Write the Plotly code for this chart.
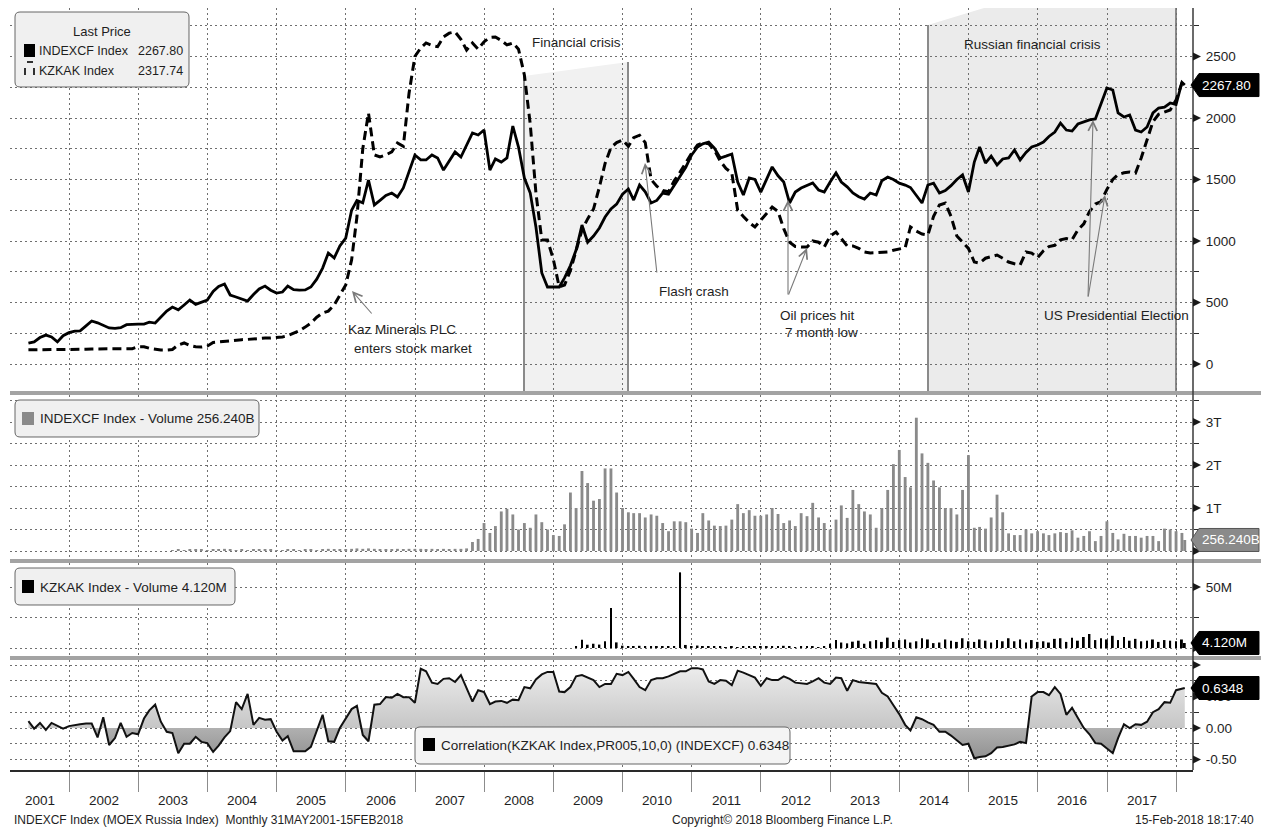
import calendar
import datetime
import plotly.graph_objects as go
from plotly.subplots import make_subplots

# ------------------------------------------------------------------ data
# Monthly, 31 May 2001 .. 15 Feb 2018 (202 points)
indexcf_price = (
    [170, 180, 215, 235, 220, 180, 230, 255]                              # 2001 May-Dec
    + [268, 270, 310, 350, 335, 315, 293, 290, 295, 320, 325, 325]        # 2002
    + [325, 340, 333, 380, 430, 463, 440, 480, 520, 485, 500, 520]        # 2003
    + [590, 630, 650, 561, 545, 530, 512, 565, 610, 634, 600, 577]        # 2004
    + [585, 634, 605, 600, 602, 626, 690, 780, 902, 862, 960, 1024]       # 2005
    + [1250, 1330, 1310, 1496, 1293, 1330, 1370, 1390, 1358, 1431, 1560, 1699]  # 2006
    + [1659, 1659, 1700, 1675, 1577, 1650, 1724, 1683, 1780, 1878, 1862, 1902]  # 2007
    + [1577, 1667, 1642, 1675, 1935, 1764, 1512, 1390, 1114, 740, 626, 626]     # 2008
    + [626, 700, 800, 927, 1130, 990, 1040, 1106, 1195, 1260, 1300, 1380]       # 2009
    + [1423, 1333, 1455, 1400, 1309, 1330, 1390, 1380, 1450, 1520, 1600, 1700]  # 2010
    + [1764, 1790, 1805, 1756, 1675, 1690, 1707, 1480, 1374, 1512, 1500, 1398]  # 2011
    + [1500, 1602, 1530, 1480, 1309, 1398, 1431, 1455, 1472, 1415, 1398, 1480]  # 2012
    + [1553, 1480, 1440, 1390, 1360, 1341, 1390, 1374, 1490, 1520, 1500, 1470]  # 2013
    + [1455, 1435, 1370, 1309, 1455, 1470, 1390, 1410, 1450, 1500, 1537, 1398]  # 2014
    + [1642, 1764, 1634, 1691, 1618, 1667, 1675, 1740, 1659, 1720, 1764, 1780]  # 2015
    + [1805, 1850, 1886, 1959, 1902, 1894, 1951, 1970, 1985, 1992, 2122, 2244]  # 2016
    + [2228, 2041, 2008, 2024, 1902, 1886, 1927, 2041, 2081, 2089, 2122, 2110]  # 2017
    + [2290, 2267.80]                                                           # 2018
)

kzkak_price = (
    [115, 115, 114, 118, 114, 114, 114, 116]
    + [115, 115, 120, 122, 122, 122, 122, 122, 122, 122, 125, 140]
    + [140, 128, 120, 114, 114, 118, 155, 171, 150, 140, 138, 145]
    + [175, 180, 185, 190, 195, 198, 200, 205, 208, 211, 211, 215]
    + [220, 230, 252, 270, 300, 333, 380, 415, 430, 480, 560, 642]
    + [846, 1195, 1750, 2041, 1700, 1683, 1700, 1724, 1797, 1770, 2200, 2500]
    + [2570, 2610, 2590, 2580, 2659, 2690, 2700, 2640, 2553, 2610, 2560, 2620]
    + [2655, 2659, 2630, 2594, 2610, 2560, 2350, 1950, 1390, 1008, 1008, 850]
    + [626, 642, 760, 920, 1089, 1180, 1260, 1439, 1630, 1760, 1800, 1821]
    + [1770, 1840, 1860, 1800, 1500, 1445, 1410, 1400, 1490, 1560, 1640, 1715]
    + [1780, 1797, 1790, 1740, 1650, 1590, 1553, 1250, 1200, 1150, 1114, 1170]
    + [1230, 1276, 1240, 1100, 990, 955, 951, 951, 1000, 990, 951, 1040]
    + [1073, 1015, 960, 960, 940, 911, 903, 905, 908, 911, 925, 935]
    + [945, 1114, 1080, 1057, 1049, 1200, 1293, 1309, 1200, 1040, 990, 940]
    + [829, 821, 860, 875, 886, 860, 829, 815, 805, 911, 902, 865]
    + [920, 955, 965, 1010, 1020, 1010, 1090, 1140, 1240, 1300, 1320, 1420]
    + [1500, 1540, 1555, 1561, 1553, 1675, 1821, 1970, 2030, 2050, 2065, 2146]
    + [2285, 2317.74]
)

# INDEXCF volume, trillions
indexcf_volume_t = (
    [0] * 8
    + [0] * 12
    + [0, 0, 0, 0, 0, 0.02, 0.03, 0.02, 0.03, 0.04, 0.03, 0.02]
    + [0.03, 0.04, 0.05, 0.03, 0.02, 0.03, 0.02, 0.03, 0.04, 0.03, 0.03, 0.02]
    + [0.02, 0.03, 0.03, 0.02, 0.03, 0.03, 0.02, 0.03, 0.05, 0.04, 0.04, 0.03]
    + [0.05, 0.06, 0.05, 0.06, 0.05, 0.04, 0.04, 0.03, 0.05, 0.04, 0.05, 0.05]
    + [0.05, 0.04, 0.05, 0.04, 0.05, 0.04, 0.05, 0.05, 0.06, 0.21, 0.28, 0.65]
    + [0.42, 0.58, 0.92, 0.98, 0.85, 0.50, 0.65, 0.54, 0.85, 0.67, 0.50, 0.37]
    + [0.35, 0.62, 1.36, 1.00, 1.86, 1.58, 1.17, 1.21, 1.92, 1.92, 1.36, 1.00]
    + [0.90, 0.88, 0.88, 0.78, 0.85, 0.82, 0.65, 0.46, 0.69, 0.69, 0.67, 0.52]
    + [0.42, 0.88, 0.71, 0.59, 0.58, 0.59, 0.73, 1.09, 0.88, 0.95, 0.82, 0.82]
    + [0.85, 1.00, 0.86, 0.65, 0.71, 0.58, 0.88, 0.81, 1.12, 0.78, 0.65, 0.50]
    + [0.73, 1.06, 0.77, 1.42, 1.09, 0.92, 0.85, 0.54, 1.00, 1.42, 2.02, 2.35]
    + [1.72, 1.48, 3.10, 2.27, 2.05, 1.64, 1.48, 1.00, 1.00, 0.85, 1.42, 2.23]
    + [0.54, 0.56, 0.52, 0.78, 1.31, 0.90, 0.41, 0.37, 0.37, 0.50, 0.41, 0.46]
    + [0.41, 0.37, 0.41, 0.44, 0.42, 0.48, 0.31, 0.35, 0.46, 0.23, 0.35, 0.69]
    + [0.42, 0.27, 0.40, 0.35, 0.35, 0.31, 0.35, 0.35, 0.23, 0.52, 0.50, 0.46]
    + [0.42, 0.25624]
)

# KZKAK volume, millions
kzkak_volume_m = (
    [0] * 8
    + [0] * 12 * 7
    + [0, 0, 0, 1.4, 6.8, 2.7, 3.5, 2.8, 5.5, 32.8, 4.6, 1.9]
    + [1.5, 1.2, 1.8, 1.0, 1.3, 1.6, 1.0, 1.2, 1.4, 62.0, 2.5, 1.5]
    + [2.0, 1.5, 1.2, 1.0, 1.4, 0.8, 1.2, 0.5, 1.0, 1.6, 1.2, 1.0]
    + [1.5, 1.3, 1.0, 1.8, 1.2, 0.8, 1.5, 1.3, 1.0, 0.8, 1.5, 3.5]
    + [6.5, 4.5, 3.8, 5.2, 6.0, 3.5, 5.5, 6.5, 5.0, 8.5, 5.0, 6.5]
    + [7.0, 4.5, 5.5, 8.0, 7.0, 4.0, 4.5, 7.0, 6.0, 5.0, 8.0, 5.5]
    + [5.0, 7.0, 6.0, 4.5, 6.5, 5.5, 8.0, 5.5, 7.0, 4.5, 6.5, 5.0]
    + [5.5, 4.5, 7.5, 8.0, 5.0, 8.5, 6.0, 9.0, 11.5, 6.5, 8.0, 7.0]
    + [10.0, 6.5, 9.0, 6.0, 7.5, 5.5, 6.0, 7.0, 5.0, 6.5, 6.0, 5.5]
    + [7.0, 4.12]
)

correlation = (
    [0.11, -0.01, 0.08, -0.03, 0.08, 0.04, -0.01, 0.03]
    + [0.05, 0.06, 0.07, 0.07, -0.15, 0.17, -0.27, -0.16, 0.08, -0.14, -0.08, -0.10]
    + [0.15, 0.28, 0.37, 0.10, -0.06, -0.08, -0.40, -0.25, -0.25, -0.14, -0.22, -0.24]
    + [-0.38, -0.28, -0.15, -0.05, 0.41, 0.30, 0.54, 0.05, 0.16, 0.13, 0.14, -0.06]
    + [-0.20, -0.13, -0.37, -0.37, -0.37, -0.30, -0.05, 0.21, -0.21, -0.22, 0.00, 0.15]
    + [0.30, 0.35, -0.11, -0.21, 0.37, 0.38, 0.49, 0.48, 0.54, 0.49, 0.49, 0.40]
    + [0.94, 0.90, 0.72, 0.70, 0.78, 0.79, 0.73, 0.84, 0.62, 0.42, 0.60, 0.57]
    + [0.38, 0.42, 0.43, 0.40, 0.45, 0.44, 0.65, 0.63, 0.77, 0.85, 0.89, 0.89]
    + [0.58, 0.57, 0.65, 0.82, 0.84, 0.80, 0.76, 0.65, 0.70, 0.70, 0.86, 0.84]
    + [0.89, 0.78, 0.65, 0.60, 0.76, 0.79, 0.79, 0.82, 0.86, 0.90, 0.90, 0.95]
    + [0.95, 0.93, 0.74, 0.70, 0.76, 0.75, 0.68, 0.91, 0.88, 0.84, 0.80, 0.67]
    + [0.79, 0.76, 0.76, 0.82, 0.78, 0.72, 0.71, 0.70, 0.74, 0.79, 0.72, 0.70]
    + [0.80, 0.79, 0.59, 0.76, 0.73, 0.72, 0.72, 0.70, 0.56, 0.50, 0.36, 0.22]
    + [0.05, -0.04, 0.17, 0.14, 0.09, 0.05, -0.06, -0.06, -0.12, -0.20, -0.27, -0.25]
    + [-0.48, -0.46, -0.45, -0.40, -0.31, -0.30, -0.28, -0.26, -0.22, -0.24, 0.50, 0.57]
    + [0.57, 0.52, 0.65, 0.54, 0.21, 0.32, 0.16, 0.00, -0.10, -0.24, -0.25, -0.33]
    + [-0.40, -0.16, 0.06, 0.00, 0.06, 0.05, 0.10, 0.25, 0.30, 0.41, 0.40, 0.60]
    + [0.62, 0.6348]
)

year_labels = [str(y) for y in range(2001, 2018)]
price_ticks = [0, 500, 1000, 1500, 2000, 2500]
vol1_ticks = [1, 2, 3]
vol1_ticktext = ["1T", "2T", "3T"]
vol2_ticks = [50]
vol2_ticktext = ["50M"]
corr_ticks = [-0.5, 0.0, 0.5]
corr_ticktext = ["-0.50", "0.00", "0.50"]

last_price_indexcf = "2267.80"
last_price_kzkak = "2317.74"
last_vol1 = "256.240B"
last_vol2 = "4.120M"
last_corr = "0.6348"

# month-end dates (last point 15 Feb 2018)
dates = []
for yy in range(2001, 2019):
    for mm in range(1, 13):
        if (yy == 2001 and mm < 5) or (yy == 2018 and mm > 2):
            continue
        dd = calendar.monthrange(yy, mm)[1]
        if yy == 2018 and mm == 2:
            dd = 15
        dates.append(datetime.date(yy, mm, dd).isoformat())

for name, s in [("indexcf_price", indexcf_price), ("kzkak_price", kzkak_price),
                ("indexcf_volume_t", indexcf_volume_t), ("kzkak_volume_m", kzkak_volume_m),
                ("correlation", correlation)]:
    assert len(s) == len(dates), (name, len(s), len(dates))

# ------------------------------------------------------------------ geometry
W, H = 1261, 830
L, R, T, B = 10, 1193, 8, 770
PX_PER_YEAR = 69.19
FONT = "Liberation Sans, Arial, sans-serif"
TXT = "#1e1e1e"


def fx(px):
    return (px - L) / (R - L)


def fy(py):
    return (B - py) / (B - T)


def year_to_date(t):
    y = int(t)
    start = datetime.datetime(y, 1, 1)
    end = datetime.datetime(y + 1, 1, 1)
    return (start + (end - start) * (t - y)).strftime("%Y-%m-%d %H:%M")


def px_to_date(px):
    return year_to_date(2001 + px / PX_PER_YEAR)


# panels: pixel top, pixel bottom, pixel of value 0, pixels per unit
panels = [
    dict(top=8, bot=391, y0=364, k=61.5 / 500),
    dict(top=395, bot=559, y0=551, k=43.0),
    dict(top=563, bot=656, y0=648, k=1.22),
    dict(top=660, bot=770, y0=728, k=63.0),
]
for p in panels:
    p["range"] = [(p["y0"] - p["bot"]) / p["k"], (p["y0"] - p["top"]) / p["k"]]
    p["domain"] = [fy(p["bot"]), fy(p["top"])]


def vpix(i, v):
    p = panels[i]
    return p["y0"] - p["k"] * v


fig = make_subplots(rows=4, cols=1, shared_xaxes=True, vertical_spacing=0.0)

fig.add_trace(go.Scatter(x=dates, y=indexcf_price, mode="lines",
                         line=dict(color="#000000", width=2.8), name="INDEXCF Index"), row=1, col=1)
fig.add_trace(go.Scatter(x=dates, y=kzkak_price, mode="lines",
                         line=dict(color="#000000", width=3, dash="9px,5px"), name="KZKAK Index"), row=1, col=1)
fig.add_trace(go.Bar(x=dates, y=indexcf_volume_t, marker=dict(color="#8a8a8a", line=dict(width=0)),
                     width=15 * 86400000, name="INDEXCF Volume"), row=2, col=1)
fig.add_trace(go.Bar(x=dates, y=kzkak_volume_m, marker=dict(color="#000000", line=dict(width=0)),
                     width=10 * 86400000, name="KZKAK Volume"), row=3, col=1)
fig.add_trace(go.Scatter(x=dates, y=correlation, mode="lines", fill="tozeroy",
                         line=dict(color="#111111", width=2),
                         fillgradient=dict(type="vertical", start=-0.6, stop=1.0,
                                           colorscale=[[0, "#8a8a8a"], [0.374, "#b0b0b0"],
                                                       [0.376, "#c6c6c6"], [1, "#eeeeee"]]),
                         name="Correlation"), row=4, col=1)

year_bounds = [f"{y}-01-01" for y in range(2002, 2019)]
xr = [px_to_date(L), px_to_date(R)]
grid = dict(showgrid=True, gridcolor="#6f6f6f", gridwidth=1, griddash="2px,3px")

for i in range(4):
    xa = dict(type="date", range=xr, tickmode="array", tickvals=year_bounds, showticklabels=False,
              zeroline=False, showline=False, ticks="", **grid)
    if i == 3:
        xa.update(ticks="outside", ticklen=20, tickcolor="#8c8c8c", tickwidth=1,
                  showline=True, linecolor="#2a2a2a", linewidth=1.5)
    fig.update_layout(**{("xaxis" if i == 0 else f"xaxis{i+1}"): xa})

ytick_cfg = [
    (list(range(0, 3000, 250)), price_ticks, [str(v) for v in price_ticks]),
    ([0, 0.5, 1, 1.5, 2, 2.5, 3, 3.5], vol1_ticks, vol1_ticktext),
    ([0, 25, 50], vol2_ticks, vol2_ticktext),
    ([-0.5, -0.25, 0, 0.25, 0.5, 0.75, 1.0], corr_ticks, corr_ticktext),
]
for i, (gv, major, mtext) in enumerate(ytick_cfg):
    lab = {m: t for m, t in zip(major, mtext)}
    ya = dict(domain=panels[i]["domain"], range=panels[i]["range"], side="right",
              tickmode="array", tickvals=gv, ticktext=[lab.get(v, "") for v in gv],
              ticks="outside", ticklen=5, tickcolor="#2a2a2a", tickwidth=1,
              ticklabelstandoff=4,
              tickfont=dict(family=FONT, size=13.5, color=TXT),
              zeroline=False, showline=False, **grid)
    fig.update_layout(**{("yaxis" if i == 0 else f"yaxis{i+1}"): ya})

shapes = []
annos = []


def pp(x, y):
    return f"{fx(x):.5f},{fy(y):.5f}"


def poly(points, fill, line_color=None, line_width=0, layer="above"):
    d = "M " + " L ".join(pp(x, y) for x, y in points) + " Z"
    shapes.append(dict(type="path", xref="paper", yref="paper", path=d, fillcolor=fill,
                       line=dict(color=line_color or fill, width=line_width), layer=layer))


def seg(x0, y0, x1, y1, color, width, layer="above"):
    shapes.append(dict(type="line", xref="paper", yref="paper", x0=fx(x0), y0=fy(y0),
                       x1=fx(x1), y1=fy(y1), line=dict(color=color, width=width), layer=layer))


def rect(x0, y0, x1, y1, fill, line_color=None, width=0, layer="above"):
    shapes.append(dict(type="rect", xref="paper", yref="paper", x0=fx(x0), y0=fy(y1),
                       x1=fx(x1), y1=fy(y0), fillcolor=fill,
                       line=dict(color=line_color or fill, width=width), layer=layer))


def rrect(x0, y0, x1, y1, r, fill, line_color, width=1):
    d = (f"M {pp(x0 + r, y0)} L {pp(x1 - r, y0)} Q {pp(x1, y0)} {pp(x1, y0 + r)} "
         f"L {pp(x1, y1 - r)} Q {pp(x1, y1)} {pp(x1 - r, y1)} L {pp(x0 + r, y1)} "
         f"Q {pp(x0, y1)} {pp(x0, y1 - r)} L {pp(x0, y0 + r)} Q {pp(x0, y0)} {pp(x0 + r, y0)} Z")
    shapes.append(dict(type="path", xref="paper", yref="paper", path=d, fillcolor=fill,
                       line=dict(color=line_color, width=width), layer="above"))


def text(x, y, s, anchor="left", size=13.5, color=TXT):
    annos.append(dict(xref="paper", yref="paper", x=fx(x), y=fy(y), text=s, showarrow=False,
                      xanchor=anchor, yanchor="middle", font=dict(family=FONT, size=size, color=color)))


def arrow(tail, tip):
    annos.append(dict(xref="paper", yref="paper", x=fx(tip[0]), y=fy(tip[1]), text="",
                      showarrow=True, ax=tail[0] - tip[0], ay=tail[1] - tip[1],
                      arrowhead=5, arrowsize=1.6, arrowwidth=1.1, arrowcolor="#7a7a7a",
                      standoff=0, startstandoff=0))


# event shading
poly([(524, 76), (628, 62), (628, 391), (524, 391)], "#f1f1f1", layer="below")
poly([(928, 25), (984, 8), (1176, 8), (1176, 391), (928, 391)], "#ebebeb", layer="below")
for x0, ytop in [(524, 76), (628, 62), (928, 25), (1176, 8)]:
    seg(x0, ytop, x0, 391, "#8a8a8a", 2, layer="below")

# separators and right axis line
for ya, yb in [(391, 395), (559, 563), (656, 660)]:
    rect(L, ya, W, yb, "#a3a3a3")
seg(R, T, R, B, "#3a3a3a", 1.5)

# triangle markers at major ticks
tri_sets = [(0, price_ticks), (1, [0] + vol1_ticks), (2, [0] + vol2_ticks), (3, corr_ticks + [1.0])]
for i, vals in tri_sets:
    for v in vals:
        yy = vpix(i, v)
        poly([(R, yy - 4), (R + 8, yy), (R, yy + 4)], "#1a1a1a")

# last-value boxes
for i, v, s, bg, fg in [(0, indexcf_price[-1], last_price_indexcf, "#000000", "#ffffff"),
                        (1, indexcf_volume_t[-1], last_vol1, "#8a8a8a", "#ffffff"),
                        (2, kzkak_volume_m[-1], last_vol2, "#000000", "#ffffff"),
                        (3, correlation[-1], last_corr, "#000000", "#ffffff")]:
    yc = vpix(i, v)
    hh = 11.5
    poly([(R - 2, yc), (R + 6, yc - hh), (1259, yc - hh), (1259, yc + hh), (R + 6, yc + hh)],
         bg, line_color="#555555" if i == 1 else bg, line_width=1)
    text(R + 7, yc, s, size=13.5, color=fg)

# legends
rrect(15, 12, 189, 87, 5, "#f0f0f0", "#666666")
text(102, 31, "Last Price", anchor="center", size=13)
rect(24, 44, 35, 57, "#000000")
text(37, 51, "INDEXCF Index", size=12.5)
text(185, 51, last_price_indexcf, anchor="right", size=12.5)
seg(25, 68, 25, 75, "#000000", 1.6)
seg(27, 62, 33, 62, "#000000", 1.6)
seg(34, 68, 34, 75, "#000000", 1.6)
text(37, 71, "KZKAK Index", size=12.5)
text(185, 71, last_price_kzkak, anchor="right", size=12.5)

rrect(15, 400, 259, 437, 5, "#f0f0f0", "#666666")
rect(22, 412, 34, 425, "#8a8a8a")
text(38, 419, "INDEXCF Index - Volume " + last_vol1)

rrect(15, 568, 235, 605, 5, "#f0f0f0", "#666666")
rect(22, 580, 34, 593, "#000000")
text(38, 587, "KZKAK Index - Volume " + last_vol2)

rrect(415, 727, 790, 764, 5, "#f4f4f4", "#666666")
rect(423, 738, 435, 751, "#000000")
text(439, 745, "Correlation(KZKAK Index,PR005,10,0) (INDEXCF) " + last_corr)

# event texts and arrows
text(530, 43, "Financial crisis")
text(962, 44, "Russian financial crisis")
text(346, 330, "Kaz Minerals PLC")
text(352, 348, "enters stock market")
text(657, 291, "Flash crash")
text(778, 315, "Oil prices hit")
text(783, 333, "7 month low")
text(1042, 315, "US Presidential Election")
arrow((373, 315), (352, 291))
arrow((657, 274), (645, 163))
arrow((788, 296), (788, 200))
arrow((788, 296), (807, 248))
arrow((1088, 298), (1093, 120))
arrow((1088, 298), (1105, 195))

# year labels
for k, lab in enumerate(year_labels):
    y = 2001 + k
    a = max(L, (y - 2001) * PX_PER_YEAR)
    b = min(R, (y - 2000) * PX_PER_YEAR)
    text((a + b) / 2, 800, lab, anchor="center", size=13.5)

# footer
text(12, 820, "INDEXCF Index (MOEX Russia Index)  Monthly 31MAY2001-15FEB2018", size=12)
text(782, 820, "Copyright\u00a9 2018 Bloomberg Finance L.P.", anchor="center", size=12)
text(1256, 820, "15-Feb-2018 18:17:40", anchor="right", size=12)

fig.update_layout(width=W, height=H, margin=dict(l=L, r=W - R, t=T, b=H - B),
                  paper_bgcolor="#ffffff", plot_bgcolor="rgba(0,0,0,0)",
                  showlegend=False, shapes=shapes, annotations=annos, bargap=0.5,
                  font=dict(family=FONT, size=13.5, color=TXT))

fig.write_html("out.html", config={"displayModeBar": False},
               post_script="document.body.style.margin='0';document.body.style.overflow='hidden';")
